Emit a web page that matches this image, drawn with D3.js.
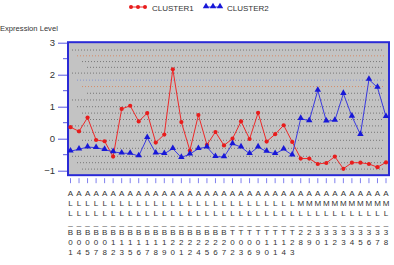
<!DOCTYPE html>
<html>
<head>
<meta charset="utf-8">
<script src="https://cdn.jsdelivr.net/npm/d3@7"></script>
<style>
  body { margin: 0; background: #fff; }
  svg { display: block; font-family: "Liberation Sans", Arial, sans-serif; }
</style>
</head>
<body>
<script>
// samples (Golub training set)
const samples = [
  'ALL_B01','ALL_B04','ALL_B05','ALL_B07','ALL_B08','ALL_B12','ALL_B13','ALL_B15','ALL_B16','ALL_B17',
  'ALL_B18','ALL_B19','ALL_B20','ALL_B21','ALL_B22','ALL_B24','ALL_B25','ALL_B26','ALL_B27',
  'ALL_T02','ALL_T03','ALL_T06','ALL_T09','ALL_T10','ALL_T11','ALL_T14','ALL_T23',
  'AML_28','AML_29','AML_30','AML_31','AML_32','AML_33','AML_34','AML_35','AML_36','AML_37','AML_38'
];

const cluster1 = [0.36, 0.23, 0.66, -0.04, -0.08, -0.56, 0.93, 1.03, 0.54, 0.80,
  -0.12, 0.13, 2.17, 0.52, -0.37, 0.74, -0.19, 0.21, -0.21, 0.00,
  0.54, -0.01, 0.81, -0.09, 0.14, 0.42, -0.10, -0.62, -0.62, -0.79,
  -0.76, -0.56, -0.94, -0.75, -0.75, -0.79, -0.89, -0.74];

const cluster2 = [-0.39, -0.33, -0.26, -0.28, -0.34, -0.41, -0.45, -0.46, -0.54, 0.03,
  -0.45, -0.47, -0.31, -0.59, -0.48, -0.31, -0.26, -0.56, -0.57, -0.16,
  -0.26, -0.47, -0.26, -0.40, -0.47, -0.33, -0.51, 0.63, 0.56, 1.51,
  0.55, 0.57, 1.41, 0.70, 0.13, 1.85, 1.60, 0.69];

const seriesNames = ['CLUSTER1', 'CLUSTER2'];
const yTicks = [-1, 0, 1, 2, 3];
const yMinorTicks = [-0.5, 0.5, 1.5, 2.5];

// faint dotted background profiles
const bgLevels = [2.77, 2.59, 2.41, 2.23, 2.05, 1.83, 1.63, 1.42, 1.21, 1.0, 0.8, 0.6, 0.4, 0.2, -0.05, -0.3, -0.55, -0.75, -0.95];
const bgKinds  = ['g','o','g','g','g','b','o','g','g','g','g','g','g','g','g','g','g','g','g'];

const width = 394, height = 265;
const svg = d3.select('body').append('svg').attr('width', width).attr('height', height);

const x = d3.scalePoint().domain(samples).range([70.5, 386]);
const y = d3.scaleLinear().domain([-1, 3]).range([170.7, 42.7]);

const frameL = 68, frameR = 389, frameT = y(3.0) - 0.5, frameB = y(-1.14);

// plot background
svg.append('rect')
  .attr('x', frameL).attr('y', frameT)
  .attr('width', frameR - frameL).attr('height', frameB - frameT)
  .attr('fill', '#c3c3c3');

const bgColor = {g: '#6e6e6e', o: '#d8865e', b: '#7f8fd0'};
svg.append('g').selectAll('line')
  .data(bgLevels)
  .join('line')
  .attr('x1', (d, i) => 72 + (i % 4) * 5)
  .attr('x2', 384)
  .attr('y1', d => y(d)).attr('y2', d => y(d))
  .attr('stroke', (d, i) => bgColor[bgKinds[i]])
  .attr('stroke-width', 0.9)
  .attr('stroke-dasharray', '1,2');

// frame
svg.append('rect')
  .attr('x', frameL).attr('y', frameT)
  .attr('width', frameR - frameL).attr('height', frameB - frameT)
  .attr('fill', 'none')
  .attr('stroke', '#2a2ad6')
  .attr('stroke-width', 2);

// y axis
const yAxis = svg.append('g')
  .attr('transform', 'translate(' + (frameL - 1) + ',0)')
  .call(d3.axisLeft(y).tickValues(yTicks).tickFormat(d3.format('d')).tickSize(9).tickPadding(3));
yAxis.select('.domain').remove();
yAxis.selectAll('line').attr('stroke', '#5a5ae0');
yAxis.selectAll('text').attr('fill', '#333').style('font-size', '9.5px')
  .style('font-family', '"Liberation Sans", Arial, sans-serif');

svg.append('g').selectAll('line')
  .data(yMinorTicks)
  .join('line')
  .attr('x1', frameL - 5).attr('x2', frameL - 1)
  .attr('y1', d => y(d)).attr('y2', d => y(d))
  .attr('stroke', '#5a5ae0');

svg.append('text')
  .attr('x', 0).attr('y', 31)
  .attr('fill', '#333')
  .style('font-size', '7.6px')
  .text('Expression Level');

// x ticks
svg.append('g').selectAll('line')
  .data(samples)
  .join('line')
  .attr('x1', d => x(d)).attr('x2', d => x(d))
  .attr('y1', frameB + 3).attr('y2', frameB + 8)
  .attr('stroke', '#8080ee');

// x labels, stacked vertically char by char
const lab = svg.append('g').selectAll('text')
  .data(samples)
  .join('text')
  .attr('fill', '#333')
  .attr('text-anchor', 'middle')
  .style('font-size', '8px');
lab.selectAll('tspan')
  .data(d => d.split('').map(c => ({c, s: d})))
  .join('tspan')
  .attr('x', d => x(d.s))
  .attr('y', (d, i) => 196 + i * 9.8)
  .text(d => d.c);

// series
const line = d3.line().x((d, i) => x(samples[i])).y(d => y(d));

svg.append('path').datum(cluster1)
  .attr('d', line).attr('fill', 'none')
  .attr('stroke', '#ee2a2a').attr('stroke-width', 1);
svg.append('g').selectAll('circle')
  .data(cluster1)
  .join('circle')
  .attr('cx', (d, i) => x(samples[i])).attr('cy', d => y(d))
  .attr('r', 2.1).attr('fill', '#e81c1c');

svg.append('path').datum(cluster2)
  .attr('d', line).attr('fill', 'none')
  .attr('stroke', '#3a3ae0').attr('stroke-width', 1);
const tri = d3.symbol().type(d3.symbolTriangle).size(18);
svg.append('g').selectAll('path')
  .data(cluster2)
  .join('path')
  .attr('d', tri)
  .attr('transform', (d, i) => 'translate(' + x(samples[i]) + ',' + (y(d) - 0.5) + ')')
  .attr('fill', '#1818d8');

// legend
const legend = svg.append('g');
const legX = [131, 206];
[0, 1].forEach(k => {
  const g = legend.append('g').attr('transform', 'translate(' + legX[k] + ',7)');
  g.append('line').attr('x1', 0).attr('x2', 15).attr('y1', 0).attr('y2', 0)
    .attr('stroke', k ? '#3a3ae0' : '#ee2a2a');
  [0, 7, 14].forEach(dx => {
    if (k) {
      g.append('path').attr('d', tri).attr('transform', 'translate(' + dx + ',-0.5)').attr('fill', '#1818d8');
    } else {
      g.append('circle').attr('cx', dx).attr('cy', 0).attr('r', 2).attr('fill', '#e81c1c');
    }
  });
  g.append('text').attr('x', 21).attr('y', 3.5)
    .attr('fill', '#333').style('font-size', '8px')
    .text(seriesNames[k]);
});
</script>
</body>
</html>
